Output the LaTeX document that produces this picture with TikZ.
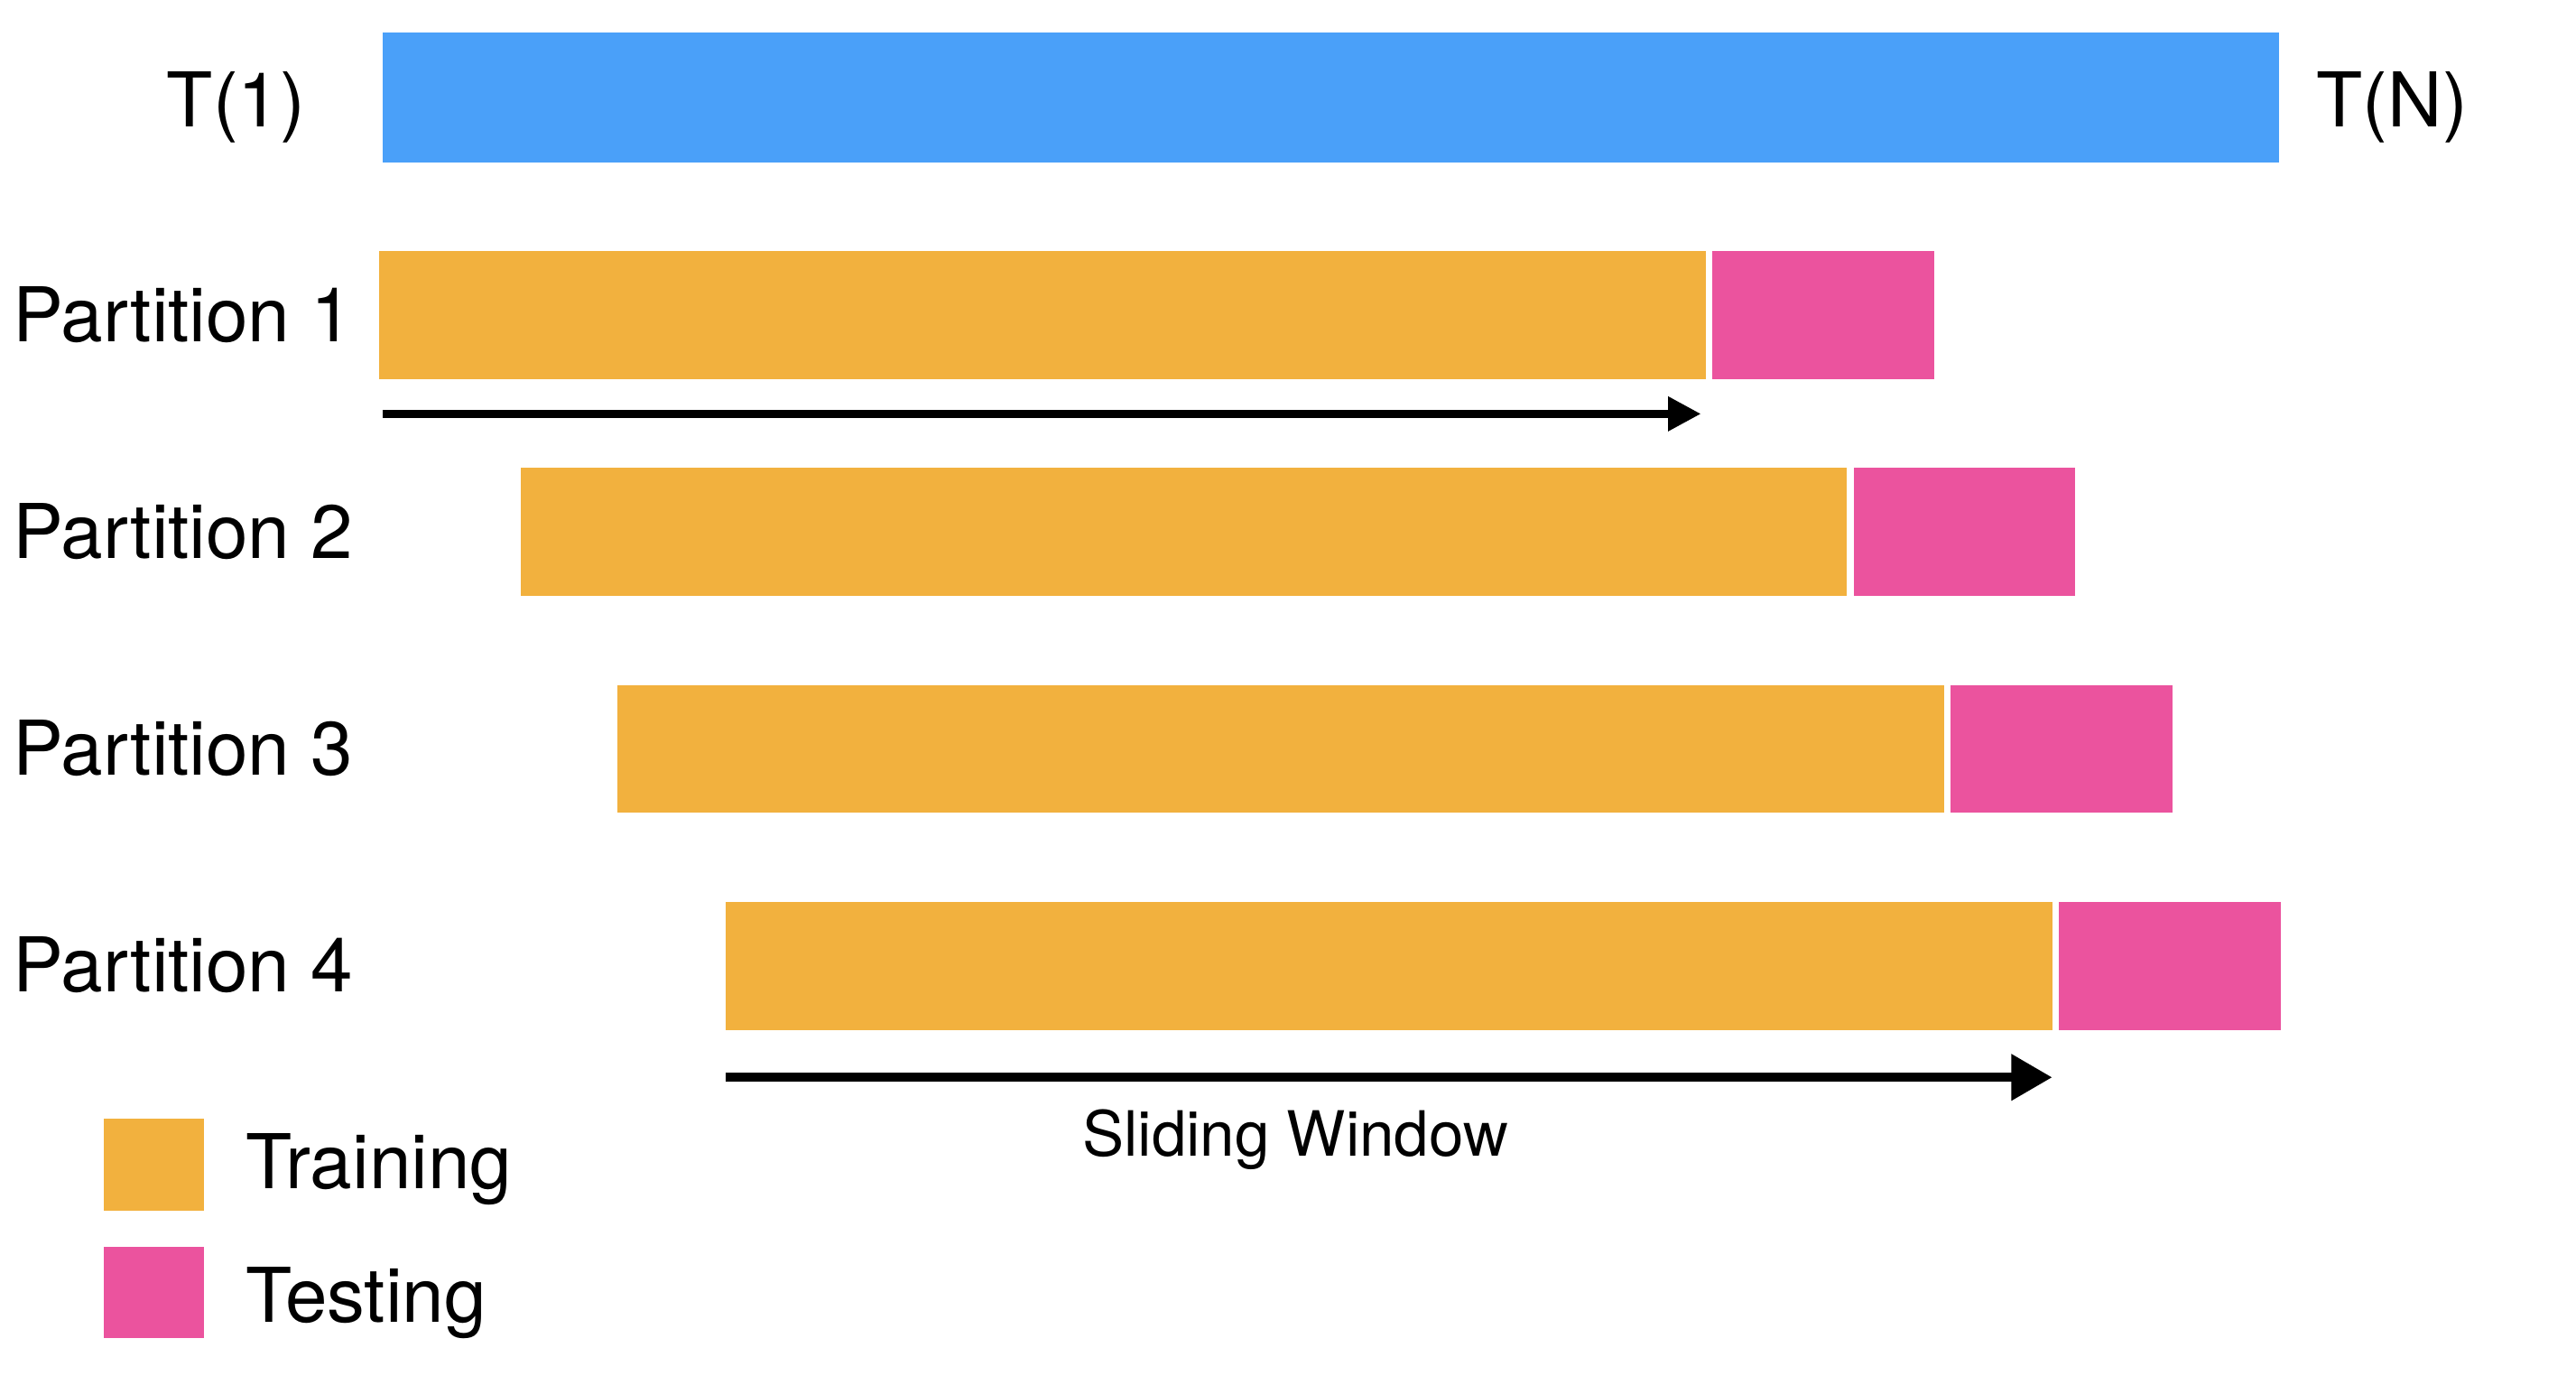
\documentclass[tikz,border=0pt]{standalone}
\usepackage{fontspec}
\setmainfont{TeX Gyre Heros}
\usetikzlibrary{arrows.meta}
\definecolor{barblue}{RGB}{74,160,249}
\definecolor{trainc}{RGB}{242,177,62}
\definecolor{testc}{RGB}{235,83,158}
\begin{document}
\begin{tikzpicture}[x=0.5pt,y=-0.5pt,
  bar/.style={inner sep=0pt,outer sep=0pt,anchor=north west,minimum height=39pt},
  fullbar/.style={bar,fill=barblue,minimum width=577.5pt,minimum height=39.5pt},
  trainbar/.style={bar,fill=trainc,minimum width=404pt},
  testbar/.style={bar,fill=testc,minimum width=67.5pt},
  lbl/.style={inner sep=0pt,outer sep=0pt,font=\fontsize{23}{27}\selectfont},
  smalllbl/.style={inner sep=0pt,outer sep=0pt,font=\fontsize{19}{23}\selectfont},
  legbox/.style={inner sep=0pt,outer sep=0pt,anchor=north west,minimum width=30.5pt,minimum height=28pt},
  thinarrow/.style={line width=2.3pt,-{Triangle[length=10pt,width=10pt]}},
  thickarrow/.style={line width=2.85pt,-{Triangle[length=12.5pt,width=13.5pt]}}
]
\useasboundingbox (0,0) rectangle (1569,843.3);

% full series
\node[fullbar] (full) at (233,20) {};
\node[lbl,anchor=base east] (t1) at (186,77) {T(1)};
\node[lbl,anchor=base west] (tn) at (1411,77) {T(N)};

% partitions
\node[trainbar] (p1tr) at (231,153) {};
\node[testbar] (p1te) at ([xshift=2pt]p1tr.north east) {};
\node[trainbar] (p2tr) at (317,285) {};
\node[testbar] (p2te) at ([xshift=2pt]p2tr.north east) {};
\node[trainbar] (p3tr) at (376,417) {};
\node[testbar] (p3te) at ([xshift=2pt]p3tr.north east) {};
\node[trainbar] (p4tr) at (442,549) {};
\node[testbar] (p4te) at ([xshift=2pt]p4tr.north east) {};

\node[lbl,anchor=base west] (l1) at (8,208) {Partition 1};
\node[lbl,anchor=base west] (l2) at (8,340) {Partition 2};
\node[lbl,anchor=base west] (l3) at (8,472) {Partition 3};
\node[lbl,anchor=base west] (l4) at (8,604) {Partition 4};

% arrows
\coordinate (a1s) at (233,252);
\coordinate (a1e) at (1036,252);
\draw[thinarrow] (a1s) -- (a1e);
\coordinate (a2s) at (442,656);
\coordinate (a2e) at (1250,656);
\draw[thickarrow] (a2s) -- (a2e);
\node[smalllbl,anchor=base] (sw) at (789,704) {Sliding Window};

% legend
\node[legbox,fill=trainc] (legtr) at (63,681) {};
\node[legbox,fill=testc] (legte) at (63,759) {};
\node[lbl,anchor=base west] (ltr) at (150,724) {Training};
\node[lbl,anchor=base west] (lte) at (150,805) {Testing};
\end{tikzpicture}
\end{document}
